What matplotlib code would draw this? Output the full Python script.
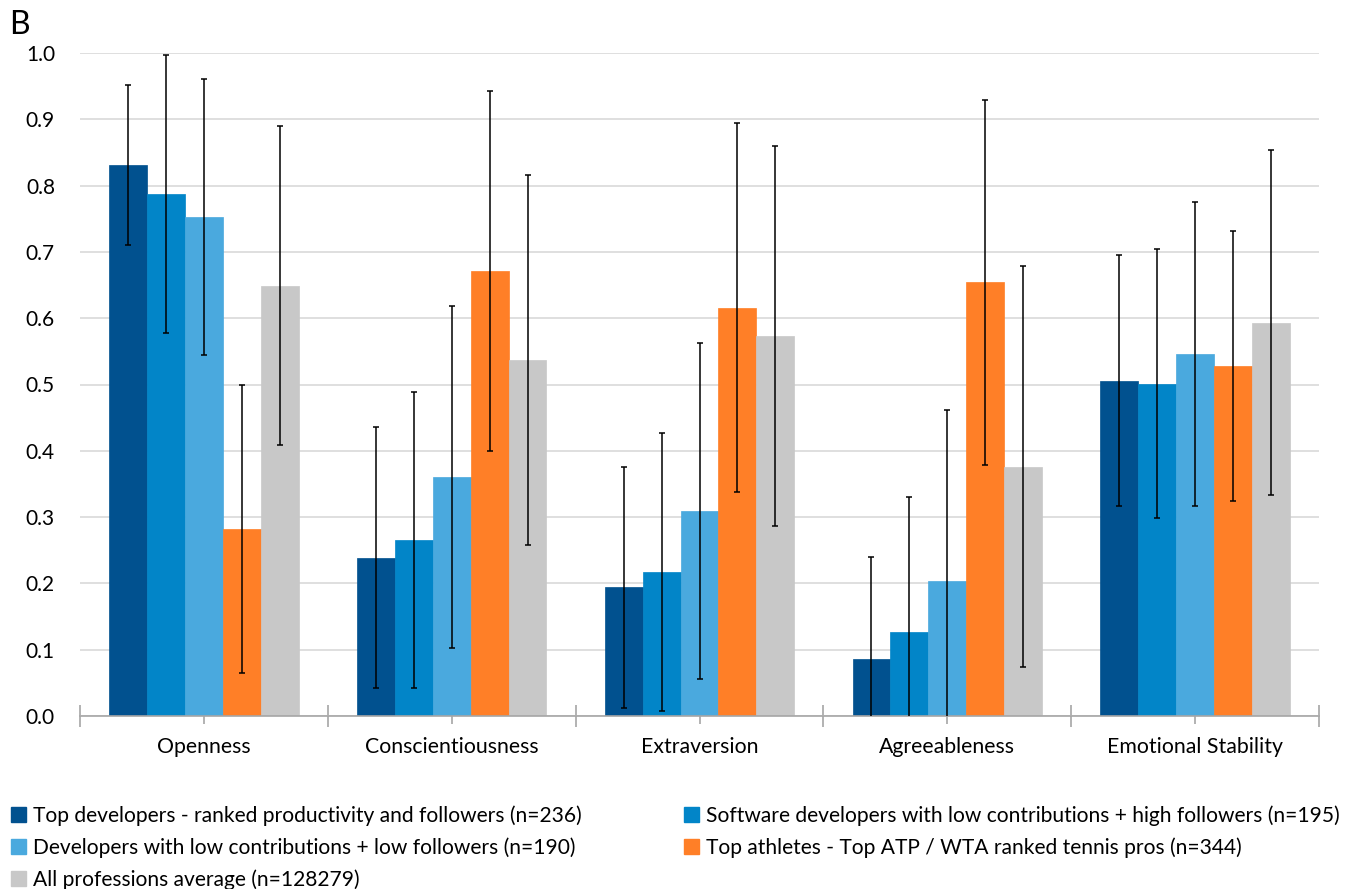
import matplotlib
matplotlib.use("Agg")
import matplotlib.pyplot as plt
import numpy as np
from matplotlib.patches import Patch

categories = ["Openness", "Conscientiousness", "Extraversion", "Agreeableness", "Emotional Stability"]

series_labels = [
    "Top developers - ranked productivity and followers (n=236)",
    "Software developers with low contributions + high followers (n=195)",
    "Developers with low contributions + low followers (n=190)",
    "Top athletes - Top ATP / WTA ranked tennis pros (n=344)",
    "All professions average (n=128279)",
]

top_devs = [0.831, 0.239, 0.194, 0.086, 0.506]
top_devs_sd = [0.121, 0.197, 0.182, 0.154, 0.189]

sw_low_high = [0.787, 0.265, 0.217, 0.127, 0.501]
sw_low_high_sd = [0.210, 0.223, 0.210, 0.203, 0.203]

dev_low_low = [0.753, 0.361, 0.309, 0.204, 0.546]
dev_low_low_sd = [0.208, 0.258, 0.253, 0.258, 0.229]

athletes = [0.282, 0.671, 0.616, 0.654, 0.528]
athletes_sd = [0.217, 0.272, 0.278, 0.275, 0.203]

all_prof = [0.649, 0.537, 0.573, 0.376, 0.593]
all_prof_sd = [0.241, 0.279, 0.286, 0.302, 0.260]

colors = ["#01518F", "#0285C8", "#4AA9DE", "#FF7F27", "#C8C8C8"]

values = [top_devs, sw_low_high, dev_low_low, athletes, all_prof]
errors = [top_devs_sd, sw_low_high_sd, dev_low_low_sd, athletes_sd, all_prof_sd]

plt.rcParams['font.family'] = ['Lato', 'DejaVu Sans']

fig = plt.figure(figsize=(13.56, 8.89), dpi=100)
ax = fig.add_axes([80/1356, (889-716)/889, (1319-80)/1356, (716-53)/889])

x = np.arange(len(categories))
bw = 0.153
n = len(values)
handles = []
for i, (vals, errs, c) in enumerate(zip(values, errors, colors)):
    pos = x + (i - (n - 1) / 2) * bw
    ax.bar(pos, vals, width=bw, color=c, edgecolor=c, linewidth=0.5, zorder=2)
    ax.errorbar(pos, vals, yerr=errs, fmt='none', ecolor='black', elinewidth=1.1,
                capsize=2.5, capthick=1.1, zorder=3)
    handles.append(Patch(facecolor=c, edgecolor=c, label=series_labels[i]))

ax.set_xlim(-0.5, len(categories) - 0.5)
ax.set_ylim(0, 1.0)
ax.set_yticks(np.arange(0, 1.01, 0.1))
ax.set_yticklabels([f"{v:.1f}" for v in np.arange(0, 1.01, 0.1)], fontsize=15)
ax.yaxis.grid(True, color='#D9D9D9', linewidth=1.2, zorder=0)
ax.set_axisbelow(True)
ax.tick_params(axis='y', length=0, pad=18)

for s in ['top', 'right', 'left']:
    ax.spines[s].set_visible(False)
ax.spines['bottom'].set_color('#A6A6A6')
ax.spines['bottom'].set_linewidth(1.2)

ax.set_xticks(x)
ax.set_xticklabels(categories, fontsize=15.3)
ax.tick_params(axis='x', which='major', length=6, direction='out', color='#A6A6A6', width=1.2, pad=9)
ax.set_xticks(np.arange(-0.5, len(categories)), minor=True)
ax.tick_params(axis='x', which='minor', length=16, direction='inout', color='#A6A6A6', width=1.2)

fig.text(9/1356, 1 - 25/889, "B", fontsize=23, va='center', ha='left')

order = [0, 2, 4, 1, 3]
leg = fig.legend([handles[i] for i in order], [series_labels[i] for i in order],
                 ncol=2, loc='upper left', bbox_to_anchor=(0/1356, 1 - 795/889),
                 frameon=False, fontsize=15.15, handlelength=0.72, handleheight=0.72,
                 handletextpad=0.35, columnspacing=4.85, labelspacing=0.54, borderpad=0)

fig.savefig("out.png", dpi=100)
